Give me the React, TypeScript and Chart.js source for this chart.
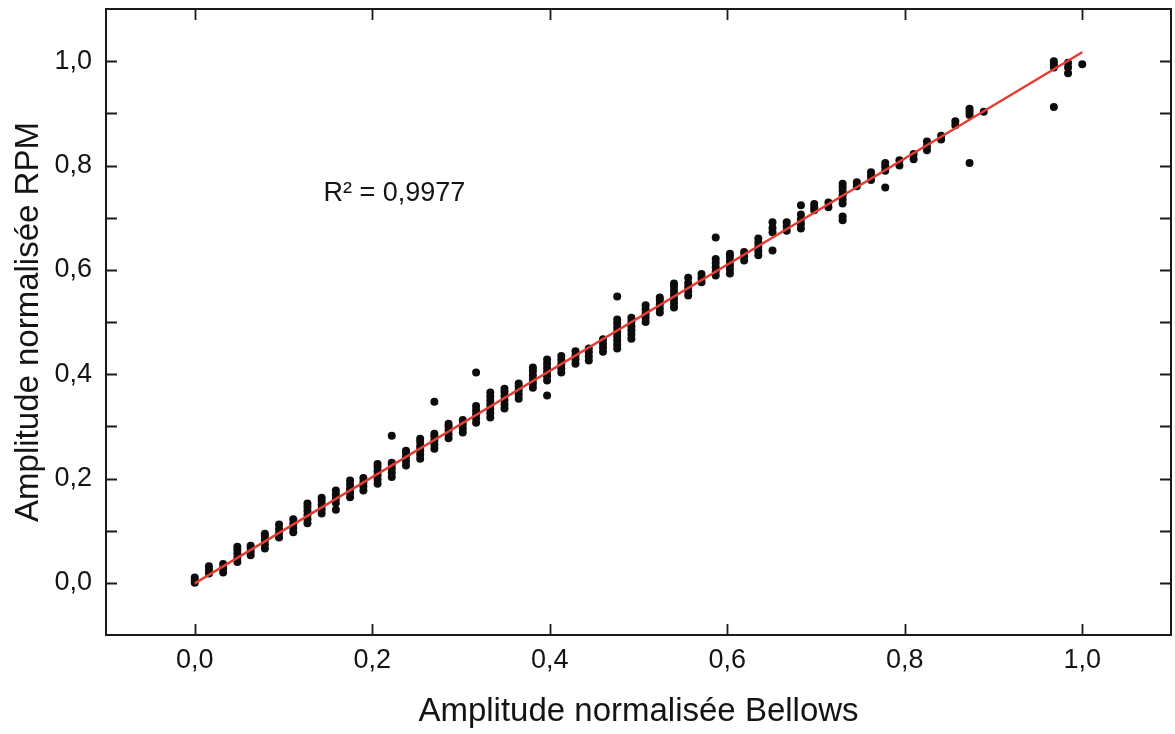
import { useEffect, useRef } from "react";
import { Chart, registerables } from "chart.js";

Chart.register(...registerables);

// Bellows normalised amplitude for each column of measurements
const bellowsColumns = [
  0, 0.016, 0.032, 0.048, 0.063, 0.079, 0.095, 0.111, 0.127, 0.143,
  0.159, 0.175, 0.19, 0.206, 0.222, 0.238, 0.254, 0.27, 0.286, 0.302,
  0.317, 0.333, 0.349, 0.365, 0.381, 0.397, 0.413, 0.429, 0.444, 0.46,
  0.476, 0.492, 0.508, 0.524, 0.54, 0.556, 0.571, 0.587, 0.603, 0.619,
  0.635, 0.651, 0.667, 0.683, 0.698, 0.714, 0.73, 0.746, 0.762, 0.778,
  0.794, 0.81, 0.825, 0.841, 0.857, 0.873, 0.889, 0.968, 0.984, 1.0,
];

// RPM normalised amplitudes observed in each column
const rpmColumns = [
  [0.0, 0.005, 0.01],
  [0.018, 0.025, 0.032],
  [0.02, 0.028, 0.036],
  [0.04, 0.048, 0.056, 0.063, 0.069],
  [0.053, 0.06, 0.067, 0.071],
  [0.066, 0.074, 0.082, 0.09, 0.094],
  [0.087, 0.095, 0.103, 0.112],
  [0.097, 0.105, 0.113, 0.122],
  [0.114, 0.122, 0.13, 0.138, 0.146, 0.152],
  [0.133, 0.141, 0.149, 0.157, 0.163],
  [0.14, 0.153, 0.161, 0.169, 0.177],
  [0.164, 0.172, 0.18, 0.188, 0.196],
  [0.177, 0.185, 0.193, 0.201],
  [0.19, 0.198, 0.206, 0.214, 0.222, 0.228],
  [0.203, 0.211, 0.219, 0.227, 0.23, 0.282],
  [0.225, 0.233, 0.241, 0.249, 0.253],
  [0.238, 0.246, 0.254, 0.262, 0.27, 0.276],
  [0.257, 0.265, 0.273, 0.281, 0.286, 0.347],
  [0.277, 0.285, 0.293, 0.3, 0.305],
  [0.288, 0.296, 0.304, 0.312],
  [0.307, 0.315, 0.323, 0.331, 0.339, 0.403],
  [0.317, 0.325, 0.333, 0.341, 0.349, 0.357, 0.365],
  [0.334, 0.342, 0.35, 0.358, 0.366, 0.372],
  [0.353, 0.361, 0.369, 0.377, 0.382],
  [0.374, 0.382, 0.39, 0.398, 0.406, 0.413],
  [0.359, 0.388, 0.396, 0.404, 0.412, 0.42, 0.428],
  [0.403, 0.411, 0.419, 0.427, 0.435],
  [0.42, 0.428, 0.436, 0.444],
  [0.426, 0.434, 0.442, 0.449],
  [0.443, 0.451, 0.459, 0.467],
  [0.449, 0.457, 0.465, 0.473, 0.481, 0.489, 0.497, 0.505, 0.549],
  [0.468, 0.476, 0.484, 0.492, 0.5, 0.508],
  [0.5, 0.508, 0.516, 0.524, 0.532],
  [0.518, 0.526, 0.534, 0.542, 0.547],
  [0.528, 0.536, 0.544, 0.552, 0.56, 0.568, 0.574],
  [0.551, 0.559, 0.567, 0.575, 0.585],
  [0.576, 0.584, 0.592],
  [0.589, 0.597, 0.605, 0.613, 0.621, 0.662],
  [0.593, 0.601, 0.609, 0.617, 0.625, 0.631],
  [0.618, 0.626, 0.634],
  [0.628, 0.636, 0.644, 0.652, 0.66],
  [0.637, 0.672, 0.68, 0.691],
  [0.675, 0.683, 0.691],
  [0.679, 0.688, 0.697, 0.706, 0.724],
  [0.714, 0.72, 0.726],
  [0.72, 0.729],
  [0.695, 0.702, 0.727, 0.735, 0.743, 0.751, 0.759, 0.765],
  [0.76, 0.768],
  [0.772, 0.78, 0.787],
  [0.758, 0.79, 0.798, 0.805],
  [0.8, 0.81],
  [0.812, 0.822],
  [0.829, 0.837, 0.846],
  [0.85, 0.857],
  [0.877, 0.885],
  [0.805, 0.897, 0.903, 0.909],
  [0.903],
  [0.912, 0.988, 0.994, 1.0],
  [0.977, 0.988, 0.997],
  [0.994],
];

// Linear regression line end points
const fitX = [0, 1.0];
const fitY = [-0.001, 1.017];

const xTickValues = [0, 0.2, 0.4, 0.6, 0.8, 1.0];
const yLabelValues = [0, 0.2, 0.4, 0.6, 0.8, 1.0];
const yTickValues = [0, 0.1, 0.2, 0.3, 0.4, 0.5, 0.6, 0.7, 0.8, 0.9, 1.0];

const xTitle = "Amplitude normalisée Bellows";
const yTitle = "Amplitude normalisée RPM";
const r2Label = "R² = 0,9977";
const r2Position = { x: 0.145, y: 0.747 };

const FONT = '"Liberation Sans", Arial, sans-serif';
const TEXT = "#141414";

const fmt = (v: number) => v.toFixed(1).replace(".", ",");

const framePlugin = {
  id: "frameTicks",
  afterDraw(chart: any) {
    const { ctx, chartArea: a, scales } = chart;
    const xs = scales.x;
    const ys = scales.y;
    ctx.save();
    ctx.strokeStyle = "#1a1a1a";
    ctx.lineWidth = 2;
    ctx.strokeRect(a.left, a.top, a.right - a.left, a.bottom - a.top);
    ctx.lineWidth = 1.8;
    const L = 11;
    ctx.beginPath();
    xTickValues.forEach((v) => {
      const px = Math.round(xs.getPixelForValue(v)) + 0.5;
      ctx.moveTo(px, a.bottom);
      ctx.lineTo(px, a.bottom - L);
      ctx.moveTo(px, a.top);
      ctx.lineTo(px, a.top + L);
    });
    yTickValues.forEach((v) => {
      const py = Math.round(ys.getPixelForValue(v)) + 0.5;
      ctx.moveTo(a.left, py);
      ctx.lineTo(a.left + L, py);
      ctx.moveTo(a.right, py);
      ctx.lineTo(a.right - L, py);
    });
    ctx.stroke();
    ctx.fillStyle = TEXT;
    ctx.font = `27px ${FONT}`;
    ctx.textAlign = "left";
    ctx.textBaseline = "middle";
    ctx.fillText(
      r2Label,
      xs.getPixelForValue(r2Position.x),
      ys.getPixelForValue(r2Position.y)
    );
    ctx.restore();
  },
};

export default function App() {
  const canvasRef = useRef<HTMLCanvasElement | null>(null);

  useEffect(() => {
    if (!canvasRef.current) return;
    const points: { x: number; y: number }[] = [];
    bellowsColumns.forEach((x, i) => {
      rpmColumns[i].forEach((y) => points.push({ x, y }));
    });
    const fitPoints = fitX.map((x, i) => ({ x, y: fitY[i] }));

    const chart = new Chart(canvasRef.current, {
      type: "scatter",
      data: {
        datasets: [
          {
            label: "fit",
            data: fitPoints,
            showLine: true,
            borderColor: "rgb(228, 62, 52)",
            borderWidth: 2.5,
            pointRadius: 0,
            order: 0,
          } as any,
          {
            label: "data",
            data: points,
            backgroundColor: "#0c0c0c",
            borderWidth: 0,
            pointRadius: 4,
            order: 1,
          },
        ],
      },
      options: {
        animation: false,
        responsive: true,
        maintainAspectRatio: false,
        layout: { padding: { left: 0, right: 4, top: 9, bottom: 0 } },
        plugins: {
          legend: { display: false },
          tooltip: { enabled: false },
        },
        scales: {
          x: {
            type: "linear",
            min: -0.1,
            max: 1.1,
            afterBuildTicks: (s: any) => {
              s.ticks = xTickValues.map((v) => ({ value: v }));
            },
            afterFit: (s: any) => {
              s.height = 99;
              s.paddingLeft = 0;
              s.paddingRight = 0;
            },
            grid: { display: false, drawTicks: false },
            border: { display: false },
            ticks: {
              callback: (v: any) => fmt(Number(v)),
              font: { family: FONT, size: 27 },
              color: TEXT,
              padding: 9,
              maxRotation: 0,
              autoSkip: false,
            },
            title: {
              display: true,
              text: xTitle,
              font: { family: FONT, size: 33 },
              color: TEXT,
              padding: { top: 0, bottom: 2 },
            },
          },
          y: {
            type: "linear",
            min: -0.1,
            max: 1.1,
            afterBuildTicks: (s: any) => {
              s.ticks = yLabelValues.map((v) => ({ value: v }));
            },
            afterFit: (s: any) => {
              s.width = 106;
              s.paddingTop = 0;
              s.paddingBottom = 0;
            },
            grid: { display: false, drawTicks: false },
            border: { display: false },
            ticks: {
              callback: (v: any) => fmt(Number(v)),
              font: { family: FONT, size: 27 },
              color: TEXT,
              padding: 14,
              autoSkip: false,
            },
            title: {
              display: true,
              text: yTitle,
              font: { family: FONT, size: 33 },
              color: TEXT,
              padding: { top: 9, bottom: 0 },
            },
          },
        },
      },
      plugins: [framePlugin],
    });
    return () => chart.destroy();
  }, []);

  return (
    <div
      style={{
        position: "fixed",
        left: 0,
        top: 0,
        width: "1175px",
        height: "734px",
        background: "#fff",
      }}
    >
      <canvas ref={canvasRef} />
    </div>
  );
}
